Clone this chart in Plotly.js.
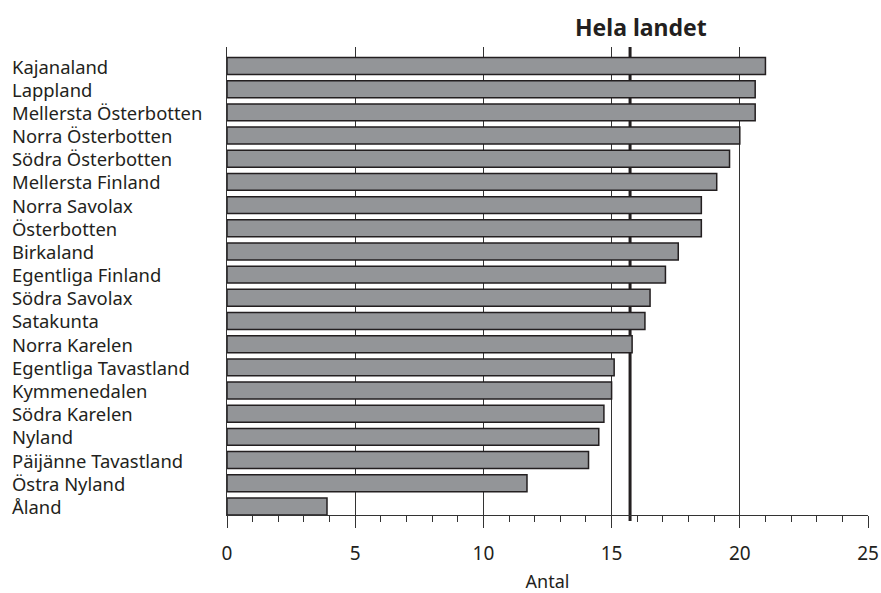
<!DOCTYPE html>
<html>
<head>
<meta charset="utf-8">
<script src="https://cdn.plot.ly/plotly-3.0.1.min.js"></script>
<style>html,body{margin:0;padding:0;background:#fff;}#chart{width:881px;height:593px;}</style>
</head>
<body>
<div id="chart"></div>
<script>
const regions = ["Kajanaland","Lappland","Mellersta Österbotten","Norra Österbotten","Södra Österbotten","Mellersta Finland","Norra Savolax","Österbotten","Birkaland","Egentliga Finland","Södra Savolax","Satakunta","Norra Karelen","Egentliga Tavastland","Kymmenedalen","Södra Karelen","Nyland","Päijänne Tavastland","Östra Nyland","Åland"];
const values = [21.0,20.6,20.6,20.0,19.6,19.1,18.5,18.5,17.6,17.1,16.5,16.3,15.8,15.1,15.0,14.7,14.5,14.1,11.7,3.9];
const nationalValue = 15.72;
const nationalLabel = "Hela landet";
const xTitle = "Antal";

const FONT = "Noto Sans, sans-serif";
const plotH = 593 - 47 - 78;

const annotations = regions.map(r => ({
  text: r, x: 0, xref: 'paper', xshift: -217, y: r, yref: 'y',
  xanchor: 'left', yanchor: 'middle', showarrow: false,
  font: {family: FONT, size: 18.4, color: '#231f20'}
}));
annotations.push({
  text: '<b>' + nationalLabel + '</b>', x: nationalValue, xref: 'x', xshift: 11,
  y: 1, yref: 'paper', yanchor: 'bottom', yshift: 2, showarrow: false,
  font: {family: FONT, size: 23, color: '#231f20'}
});

Plotly.newPlot('chart', [{
  type: 'bar', orientation: 'h', y: regions, x: values,
  marker: {color: '#939598', line: {color: '#231f20', width: 1.5}},
  hoverinfo: 'none'
}], {
  width: 881, height: 593,
  margin: {l: 227, r: 13, t: 47, b: 78},
  paper_bgcolor: '#fff', plot_bgcolor: '#fff',
  bargap: 0.27,
  showlegend: false,
  font: {family: FONT, color: '#231f20'},
  xaxis: {
    range: [0, 25], dtick: 5, tick0: 0,
    showgrid: true, gridcolor: '#333', gridwidth: 1,
    zeroline: false, showline: true, linecolor: '#333', linewidth: 1,
    ticks: 'outside', ticklen: 12, tickcolor: '#333', tickwidth: 1,
    ticklabelstandoff: 9,
    minor: {dtick: 1, ticks: 'outside', ticklen: 6, tickcolor: '#333', showgrid: false},
    tickfont: {family: FONT, size: 19, color: '#231f20'},
    title: {text: xTitle, font: {family: FONT, size: 18, color: '#231f20'}, standoff: 19}
  },
  yaxis: {
    type: 'category', categoryorder: 'array', categoryarray: regions,
    range: [19.37, -0.82],
    showticklabels: false, ticks: '', showgrid: false, zeroline: false,
    showline: true, linecolor: '#333', linewidth: 1
  },
  shapes: [{
    type: 'line', layer: 'below', xref: 'x', yref: 'paper',
    x0: nationalValue, x1: nationalValue, y0: -6 / plotH, y1: 1,
    line: {color: '#231f20', width: 3}
  }],
  annotations: annotations
}, {staticPlot: true});
</script>
</body>
</html>
